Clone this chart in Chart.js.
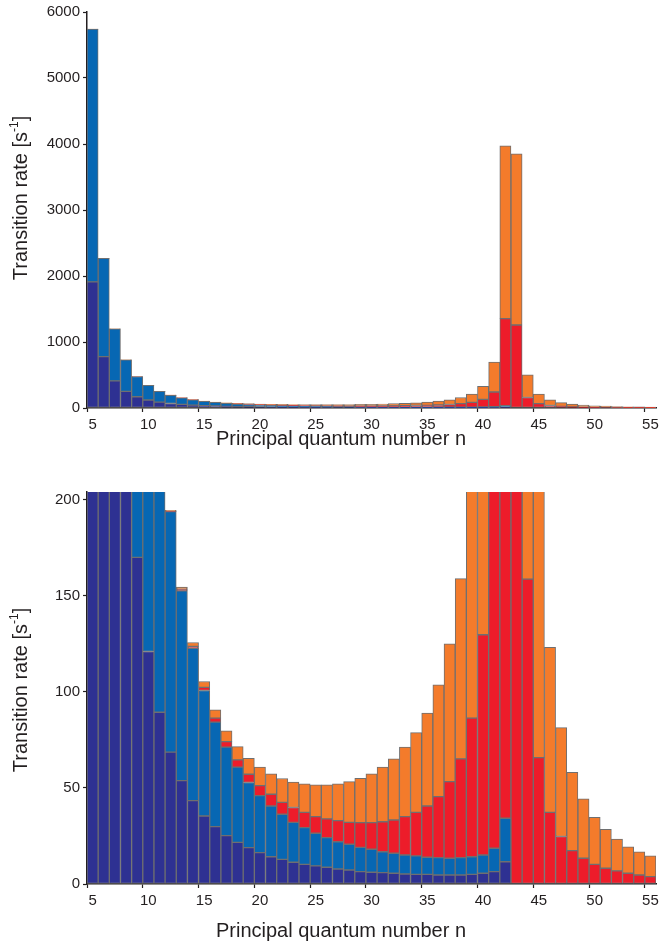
<!DOCTYPE html>
<html>
<head>
<meta charset="utf-8">
<script src="https://cdn.jsdelivr.net/npm/chart.js@4/dist/chart.umd.min.js"></script>
<style>
  body { margin: 0; background: #fff; }
  .panel { position: absolute; left: 0; width: 663px; }
  #top { top: 0; height: 455px; }
  #bottom { top: 455px; height: 487px; }
</style>
</head>
<body>
<div class="panel" id="top"><canvas id="canvasTop"></canvas></div>
<div class="panel" id="bottom"><canvas id="canvasBottom"></canvas></div>
<script>
// principal quantum number n
var nLabels = [5, 6, 7, 8, 9, 10, 11, 12, 13, 14, 15, 16, 17, 18, 19, 20, 21, 22, 23, 24, 25,
  26, 27, 28, 29, 30, 31, 32, 33, 34, 35, 36, 37, 38, 39, 40, 41, 42, 43, 44, 45,
  46, 47, 48, 49, 50, 51, 52, 53, 54, 55];

// transition rates per channel [s^-1], stacked bottom to top
var navyRates = [1912, 779, 412, 251, 170, 121, 89.4, 68.6, 53.8, 43.4, 35.4, 29.9, 25.2, 21.7, 18.9, 16.3,
  14.2, 12.8, 11.3, 10.2, 9.4, 8.7, 7.8, 7.3, 6.4, 6.1, 5.9, 5.6, 5.2, 5.0, 5.0, 4.7, 4.7, 4.7, 5.0, 5.6,
  6.4, 11.6, 0, 0, 0, 0, 0, 0, 0, 0, 0, 0, 0, 0, 0];
var blueRates = [3828, 1487, 786, 479, 307, 221, 162, 125.2, 98.8, 79.3, 65.3, 54.3, 46.0, 39.1, 33.9, 29.7,
  26.4, 23.5, 20.8, 19.1, 17.0, 15.4, 14.2, 13.4, 12.7, 12.0, 10.9, 10.4, 9.9, 9.6, 8.9, 9.0, 8.7, 9.0, 9.2, 9.5,
  12.2, 22.6, 0, 0, 0, 0, 0, 0, 0, 0, 0, 0, 0, 0, 0];
var redRates = [0, 0, 0, 0, 0.1, 0.1, 0.2, 0.2, 0.8, 1.0, 1.6, 2.1, 2.9, 3.8, 4.3, 5.2,
  6.1, 6.2, 7.7, 8.0, 8.7, 9.8, 11.0, 11.4, 12.8, 13.8, 15.6, 17.3, 20.0, 22.7, 26.7, 31.8, 39.9, 51.4, 72.1, 114.6,
  223.4, 1320, 1258, 158.7, 65.8, 37.3, 24.7, 17.4, 13.4, 10.2, 8.2, 6.8, 5.6, 4.7, 3.8];
var orangeRates = [2, 1, 0.5, 0.4, 0.3, 0.3, 0.3, 0.4, 1.1, 2.0, 3.1, 4.3, 5.6, 6.9, 8.3, 9.6,
  10.6, 12.4, 13.2, 14.8, 16.5, 17.7, 19.1, 21.2, 23.1, 25.4, 28.4, 31.8, 36.1, 41.5, 48.3, 58.1, 71.7, 93.8, 124.7, 200,
  453, 2619, 2594, 344, 145, 85.8, 56.7, 40.7, 30.9, 24.5, 20.3, 16.6, 13.8, 12.1, 10.8];

var topTicks = [0, 1000, 2000, 3000, 4000, 5000, 6000];
var bottomTicks = [0, 50, 100, 150, 200];

var FONT = "'Liberation Sans', Arial, sans-serif";
var INK = '#231f20';

// axis titles: x title centred under the figure, rotated y title with a superscript unit
var axisTitlePlugin = {
  id: 'axisTitles',
  afterDraw: function (chart, args, opts) {
    var c = chart.ctx;
    var big = '20px ' + FONT, small = '12px ' + FONT;
    c.save();
    c.fillStyle = INK;
    c.font = big;
    c.textAlign = 'center';
    c.textBaseline = 'middle';
    c.fillText('Principal quantum number n', opts.xTitleX, opts.xTitleY);

    c.translate(opts.yTitleX, opts.yTitleY);
    c.rotate(-Math.PI / 2);
    c.textBaseline = 'alphabetic';
    c.textAlign = 'left';
    var main = 'Transition rate [s', sup = '-1', tail = ']';
    var w1 = c.measureText(main).width, w3 = c.measureText(tail).width;
    c.font = small;
    var w2 = c.measureText(sup).width;
    var x = -(w1 + w2 + w3) / 2;
    c.font = big;
    c.fillText(main, x, 0);
    c.font = small;
    c.fillText(sup, x + w1, -9);
    c.font = big;
    c.fillText(tail, x + w1 + w2, 0);
    c.restore();
  }
};

function ds(label, data, color) {
  return {
    label: label,
    data: data,
    backgroundColor: color,
    borderColor: '#6f6f70',
    borderWidth: 1,
    borderSkipped: false,
    barPercentage: 1,
    categoryPercentage: 1
  };
}

function mychart(id, yMax, yTicks, areaTop, xHeight, xTitleY, yTitleY) {
  var ctx = document.getElementById(id).getContext('2d');
  return new Chart(ctx, {
    type: 'bar',
    plugins: [axisTitlePlugin],
    data: {
      labels: nLabels,
      datasets: [
        ds('navy', navyRates, '#2e3192'),
        ds('blue', blueRates, '#0767b3'),
        ds('red', redRates, '#ed1c2a'),
        ds('orange', orangeRates, '#f47b2b')
      ]
    },
    options: {
      responsive: true,
      maintainAspectRatio: false,
      animation: false,
      layout: { padding: { top: areaTop, right: 7, left: 0, bottom: 0 } },
      plugins: {
        legend: { display: false },
        tooltip: { enabled: false },
        axisTitles: { xTitleX: 341, xTitleY: xTitleY, yTitleX: 27, yTitleY: yTitleY }
      },
      scales: {
        x: {
          stacked: true,
          offset: true,
          border: { display: true, color: INK, width: 1.5 },
          grid: {
            display: true,
            drawOnChartArea: false,
            tickLength: 4,
            tickWidth: 1.2,
            tickColor: function (c) {
              return (c.tick && c.tick.label !== '') ? INK : 'rgba(0,0,0,0)';
            }
          },
          ticks: {
            autoSkip: false,
            maxRotation: 0,
            padding: 4,
            color: INK,
            font: { family: FONT, size: 15 },
            callback: function (v, i) {
              return nLabels[i] % 5 === 0 ? String(nLabels[i]) : '';
            }
          },
          afterFit: function (s) { s.height = xHeight; }
        },
        y: {
          stacked: true,
          min: 0,
          max: yMax,
          border: { display: true, color: INK, width: 1.5 },
          grid: { display: true, drawOnChartArea: false, tickLength: 4, tickWidth: 1.2, tickColor: INK },
          ticks: {
            padding: 3,
            color: INK,
            font: { family: FONT, size: 15 },
            callback: function (v) { return String(v); }
          },
          afterBuildTicks: function (s) {
            s.ticks = yTicks.map(function (v) { return { value: v }; });
          },
          afterFit: function (s) { s.width = 87; }
        }
      }
    }
  });
}

mychart('canvasTop', 6000, topTicks, 11, 47, 439, 198);
mychart('canvasBottom', 204, bottomTicks, 37, 58, 476, 235);
</script>
</body>
</html>
